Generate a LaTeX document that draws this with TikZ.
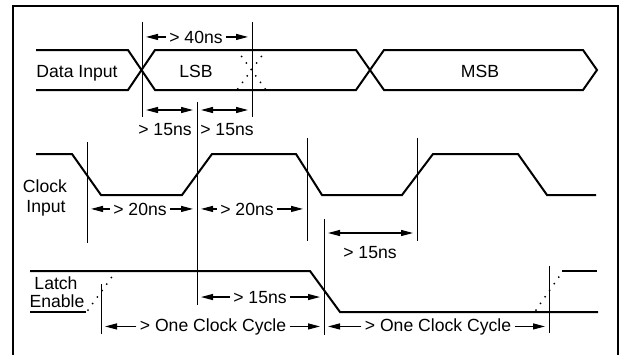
\documentclass[tikz,border=0pt]{standalone}
\usepackage{fontspec}
\setmainfont{Liberation Sans}
\usetikzlibrary{arrows.meta}

\begin{document}
\begin{tikzpicture}[x=0.5pt, y=-0.5pt,
  signal/.style={line width=1pt, line join=miter},
  guess/.style={line width=1pt, dash pattern=on 0pt off 4pt, line cap=round},
  marker/.style={line width=0.5pt},
  dim/.style={line width=0.6pt, -{Triangle[length=6pt,width=3pt]}, shorten >=2pt},
  dimboth/.style={line width=0.6pt, {Triangle[length=6pt,width=3pt]}-{Triangle[length=6pt,width=3pt]}, shorten <=2pt, shorten >=2pt},
  lbl/.style={font=\fontsize{8.8}{10}\selectfont, inner sep=0pt, anchor=base},
  dimlbl/.style={lbl, inner xsep=1.5pt}]

\useasboundingbox (0,0) rectangle (622,354);
% Rahmen
\draw[line width=1pt] (13,360) -- (13,6) -- (617.5,6) -- (617.5,360);

% Data Input
\draw[signal] (36,50) -- (128,50) -- (155,90) -- (356,90) -- (384,50) -- (583,50) -- (597,70)
  -- (583,90) -- (384,90) -- (356,50) -- (155,50) -- (128,90) -- (36,90);
\draw[guess] (237,50) -- (266,90);
\draw[guess] (266,50) -- (237,90);
\node[lbl] (din) at (77,77) {Data Input};
\node[lbl] (lsb) at (196,77) {LSB};
\node[lbl] (msb) at (480,77) {MSB};

% Clock Input
\draw[signal] (36,154) -- (72,154) -- (101,195) -- (182,195) -- (212,154) -- (296,154) -- (322,195)
  -- (402,195) -- (433,154) -- (518,154) -- (547,195) -- (596,195);
\node[lbl] (clk1) at (45,192) {Clock};
\node[lbl] (clk2) at (46,212) {Input};

% Latch Enable
\draw[signal] (30,271) -- (310,271) -- (340,312) -- (598,312);
\draw[signal] (30,312) -- (86,312);
\draw[guess] (88,310) -- (114,274);
\draw[signal] (562,271) -- (597,271);
\draw[guess] (536,310) -- (561,274);
\node[lbl] (le1) at (56,289) {Latch};
\node[lbl] (le2) at (57,307) {Enable};

% Zeitmarken
\foreach \n/\x/\ya/\yb in {A/142/22/117, B/252/22/117, C/197/102/305, D/87/142/243,
  E/307/138/241, F/417/138/241, G/324/219/335, H/101/284/334, I/549/266/333} {
  \coordinate (m\n1) at (\x,\ya);
  \coordinate (m\n2) at (\x,\yb);
  \draw[marker] (m\n1) -- (m\n2);
}

% Zeiten
\node[dimlbl] (t40) at (196,43) {> 40ns};
\draw[dim] (t40.west) -- (t40.west -| mA1);
\draw[dim] (t40.east) -- (t40.east -| mB1);

\draw[dimboth] (mA1 |- 0,110) -- (mC1 |- 0,110);
\draw[dimboth] (mC1 |- 0,110) -- (mB1 |- 0,110);
\node[lbl] (t15a) at (165,135) {> 15ns};
\node[lbl] (t15b) at (227,135) {> 15ns};

\node[dimlbl] (t20a) at (140,215) {> 20ns};
\draw[dim] (t20a.west) -- (t20a.west -| mD1);
\draw[dim] (t20a.east) -- (t20a.east -| mC1);
\node[dimlbl] (t20b) at (247,215) {> 20ns};
\draw[dim] (t20b.west) -- (t20b.west -| mC1);
\draw[dim] (t20b.east) -- (t20b.east -| mE1);

\draw[dimboth] (mG1 |- 0,233) -- (mF1 |- 0,233);
\node[lbl] (t15c) at (370,258) {> 15ns};

\node[dimlbl] (t15d) at (260,303) {> 15ns};
\draw[dim] (t15d.west) -- (t15d.west -| mC1);
\draw[dim] (t15d.east) -- (t15d.east -| mG1);

\node[dimlbl] (cyc1) at (213,331) {> One Clock Cycle};
\draw[dim] (cyc1.west) -- (cyc1.west -| mH1);
\draw[dim] (cyc1.east) -- (cyc1.east -| mG1);
\node[dimlbl] (cyc2) at (438,331) {> One Clock Cycle};
\draw[dim] (cyc2.west) -- (cyc2.west -| mG1);
\draw[dim] (cyc2.east) -- (cyc2.east -| mI1);
\end{tikzpicture}
\end{document}
